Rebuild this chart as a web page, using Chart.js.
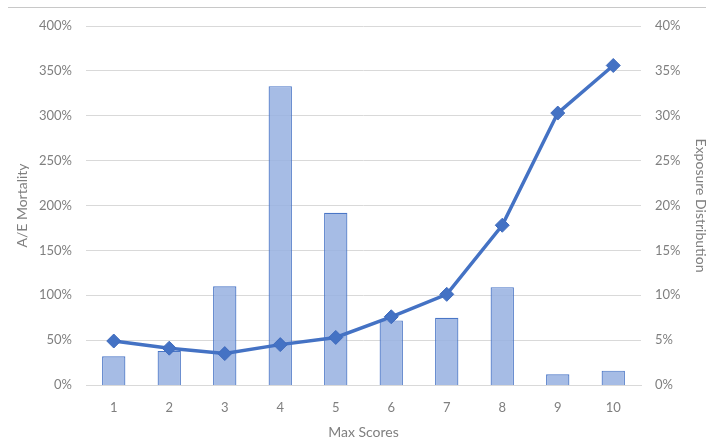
<!DOCTYPE html>
<html>
<head>
<meta charset="utf-8">
<script src="https://cdn.jsdelivr.net/npm/chart.js@4/dist/chart.umd.min.js"></script>
<style>
  html, body { margin: 0; padding: 0; background: #ffffff; }
  #wrap { position: relative; width: 706px; height: 441px; }
</style>
</head>
<body>
<div id="wrap"><canvas id="chart" width="706" height="441"></canvas></div>
<script>
// Max score buckets
const maxScores = ['1', '2', '3', '4', '5', '6', '7', '8', '9', '10'];
// Share of exposure in each bucket (%), right axis
const exposureDistribution = [3.2, 3.8, 11.0, 33.3, 19.2, 7.2, 7.5, 10.9, 1.2, 1.6];
// Actual-to-expected mortality ratio (%), left axis
const aeMortality = [49, 41, 35, 45, 53, 76, 101, 178, 303, 356];

const textColor = '#7f7f7f';
const gridColor = '#d9d9d9';
const tickFont = { family: 'Lato', size: 13 };
const titleFont = { family: 'Lato', size: 14, lineHeight: 1 };

// thin rule across the top of the figure
const topRule = {
  id: 'topRule',
  beforeDraw(chart) {
    const ctx = chart.ctx;
    ctx.save();
    ctx.strokeStyle = '#c8c8c8';
    ctx.lineWidth = 1;
    ctx.beginPath();
    ctx.moveTo(8, 7.5);
    ctx.lineTo(chart.width, 7.5);
    ctx.stroke();
    ctx.restore();
  }
};

new Chart(document.getElementById('chart'), {
  data: {
    labels: maxScores,
    datasets: [
      {
        type: 'line',
        label: 'A/E Mortality',
        data: aeMortality,
        yAxisID: 'y',
        borderColor: '#4472c4',
        backgroundColor: '#4472c4',
        borderWidth: 3.5,
        pointStyle: 'rectRot',
        pointRadius: 7,
        pointBorderWidth: 1,
        pointBackgroundColor: '#4472c4',
        pointBorderColor: '#3f6bbd',
        tension: 0,
        order: 0
      },
      {
        type: 'bar',
        label: 'Exposure Distribution',
        data: exposureDistribution,
        yAxisID: 'y1',
        backgroundColor: 'rgba(150, 176, 224, 0.85)',
        borderColor: '#4a76c6',
        borderWidth: 1.2,
        categoryPercentage: 1,
        barPercentage: 0.42,
        order: 1
      }
    ]
  },
  options: {
    responsive: false,
    animation: false,
    layout: { padding: { top: 26, right: 0, bottom: 0, left: 0 } },
    plugins: { legend: { display: false }, tooltip: { enabled: false } },
    scales: {
      x: {
        grid: { display: false, drawTicks: false },
        border: { display: true, color: gridColor },
        ticks: { color: textColor, font: tickFont, padding: 15 },
        title: { display: true, text: 'Max Scores', color: textColor, font: titleFont, padding: { top: 0, bottom: 2 } },
        afterFit(s) { s.height = 56; }
      },
      y: {
        position: 'left',
        min: 0, max: 400,
        ticks: { stepSize: 50, color: textColor, font: tickFont, padding: 14, callback: v => v + '%' },
        grid: { color: gridColor, drawTicks: false },
        border: { display: false },
        title: { display: true, text: 'A/E Mortality', color: textColor, font: titleFont, padding: { top: 15, bottom: 0 } },
        afterFit(s) { s.width = 86; }
      },
      y1: {
        position: 'right',
        min: 0, max: 40,
        ticks: { stepSize: 5, color: textColor, font: tickFont, padding: 14, callback: v => v + '%' },
        grid: { display: false, drawTicks: false },
        border: { display: false },
        title: { display: true, text: 'Exposure Distribution', color: textColor, font: { family: 'Lato', size: 14, lineHeight: 0.8 }, padding: { top: 0, bottom: 0 } },
        afterFit(s) { s.width = 65; }
      }
    }
  },
  plugins: [topRule]
});
</script>
</body>
</html>
